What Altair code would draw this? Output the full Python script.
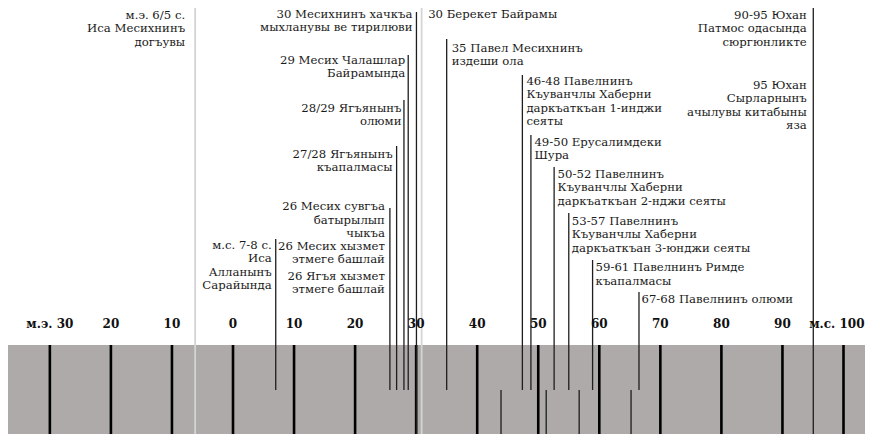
import altair as alt
import pandas as pd

# ---------------- data ----------------
tick_years = [-30, -20, -10, 0, 10, 20, 30, 40, 50, 60, 70, 80, 90, 100]
tick_labels = ["м.э. 30", "20", "10", "0", "10", "20", "30", "40", "50",
               "60", "70", "80", "90", "м.с. 100"]

# event marker lines (year position on the timeline)
line_years = [-6.2, 7.0, 25.7, 26.8, 28.0, 28.7, 30.05, 30.9, 35.0,
              47.4, 48.8, 52.6, 55.0, 58.9, 66.5, 95.05]
line_kind = ["light", "dark", "dark", "dark", "dark", "dark", "long", "light", "dark",
             "dark", "dark", "dark", "dark", "dark", "dark", "long"]

# short unlabeled marks in the lower half of the band
lower_years = [43.9, 51.3, 56.7, 65.2]

label_texts = [
    "м.э. 6/5 с.\nИса Месихнинъ\nдогъувы",
    "м.с. 7-8 с.\nИса\nАлланынъ\nСарайында",
    "26 Месих сувгъа\nбатырылып\nчыкъа",
    "26 Месих хызмет\nэтмеге башлай",
    "26 Ягъя хызмет\nэтмеге башлай",
    "27/28 Ягъянынъ\nкъапалмасы",
    "28/29 Ягъянынъ\nолюми",
    "29 Месих Чалашлар\nБайрамында",
    "30 Месихнинъ хачкъа\nмыхланувы ве тирилюви",
    "30 Берекет Байрамы",
    "35 Павел Месихнинъ\nиздеши ола",
    "46-48 Павелнинъ\nКъуванчлы Хаберни\nдаркъаткъан 1-инджи\nсеяты",
    "49-50 Ерусалимдеки\nШура",
    "50-52 Павелнинъ\nКъуванчлы Хаберни\nдаркъаткъан 2-нджи сеяты",
    "53-57 Павелнинъ\nКъуванчлы Хаберни\nдаркъаткъан 3-юнджи сеяты",
    "59-61 Павелнинъ Римде\nкъапалмасы",
    "67-68 Павелнинъ олюми",
    "90-95 Юхан\nПатмос одасында\nсюргюнликте",
    "95 Юхан\nСырларнынъ\nачылувы китабыны\nяза",
]
label_years = [-6.2, 7.0, 25.7, 25.7, 25.7, 26.8, 28.0, 28.7, 30.05, 30.9, 35.0,
               47.4, 48.8, 52.6, 55.0, 58.9, 66.5, 95.05, 95.05]

# ---------------- layout (pixels) ----------------
W, H = 857, 426
BAND_TOP = 337
LINE_END = 382
TICK_LABEL_Y = 316
line_tops = [0, 231, 200, 138, 92, 47, 4, 0, 31, 67, 127, 159, 205, 252, 284, 0]
label_align = ["right", "right", "right", "right", "right", "right", "right", "right", "right",
               "left", "left", "left", "left", "left", "left", "left", "left", "right", "right"]
label_dx = [-10, -4, -5, -5, -5, -4, -2.5, -3, -4, 6.5, 5, 4, 3.5, 3.5, 3, 3, 2.5, -6.5, -6.5]
label_top = [1.5, 231.5, 193, 232.5, 262.5, 140.5, 94.5, 46.5, 0.5, 0.5, 34.5,
             67.5, 128.5, 160.5, 207.5, 254, 285.5, 1.5, 71.5]

FONT = "DejaVu Serif"
FS = 11.7
LH = 13.5

PX_PER_YEAR = 6.105
ZERO_X = 225
x0 = -ZERO_X / PX_PER_YEAR
x1 = (W - ZERO_X) / PX_PER_YEAR
xscale = alt.Scale(domain=[x0, x1], range=[0, W], nice=False, zero=False)
yscale = alt.Scale(domain=[0, H], range=[0, H], nice=False, zero=False)

ticks = pd.DataFrame({"year": tick_years, "label": tick_labels})
lines = pd.DataFrame({"year": line_years, "kind": line_kind, "top": line_tops})
lines["bottom"] = [H if k != "dark" else LINE_END for k in line_kind]
lower = pd.DataFrame({"year": lower_years})
lower["top"] = LINE_END
lower["bottom"] = H

band = alt.Chart(pd.DataFrame({"a": [0]})).mark_rect(color="#adaaa9").encode(
    x=alt.value(0), x2=alt.value(W), y=alt.value(BAND_TOP), y2=alt.value(H + 10)
)

tick_rules = alt.Chart(ticks).mark_rule(color="#000", strokeWidth=2.6).encode(
    x=alt.X("year:Q", scale=xscale, axis=None),
    y=alt.value(BAND_TOP), y2=alt.value(H + 10),
)

tick_text = alt.Chart(ticks.iloc[:-1]).mark_text(
    font=FONT, fontSize=12, fontWeight="bold", color="#111", baseline="middle"
).encode(
    x=alt.X("year:Q", scale=xscale, axis=None),
    y=alt.value(TICK_LABEL_Y),
    text="label:N",
)
# last label sits against the right edge
tick_text_last = alt.Chart(ticks.iloc[-1:]).mark_text(
    font=FONT, fontSize=12, fontWeight="bold", color="#111", baseline="middle",
    align="right", dx=W - (ZERO_X + 100 * PX_PER_YEAR) - 0.5
).encode(
    x=alt.X("year:Q", scale=xscale, axis=None),
    y=alt.value(TICK_LABEL_Y),
    text="label:N",
)

light_lines = alt.Chart(lines[lines.kind == "light"]).mark_rule(
    color="#d4d4d4", strokeWidth=1.8
).encode(
    x=alt.X("year:Q", scale=xscale, axis=None),
    y=alt.Y("top:Q", scale=yscale, axis=None),
    y2=alt.value(H + 10),
)

dark_lines = alt.Chart(lines[lines.kind != "light"]).mark_rule(
    color="#1e1e1e", strokeWidth=1.3
).encode(
    x=alt.X("year:Q", scale=xscale, axis=None),
    y=alt.Y("top:Q", scale=yscale, axis=None),
    y2="bottom:Q",
)

lower_lines = alt.Chart(lower).mark_rule(color="#111", strokeWidth=1.2).encode(
    x=alt.X("year:Q", scale=xscale, axis=None),
    y=alt.Y("top:Q", scale=yscale, axis=None),
    y2="bottom:Q",
)

layers = [band, light_lines, tick_rules, dark_lines, lower_lines, tick_text, tick_text_last]

for txt, yr, al, dx, top in zip(label_texts, label_years, label_align, label_dx, label_top):
    df = pd.DataFrame({"year": [yr], "text": [txt], "top": [top]})
    layers.append(
        alt.Chart(df).mark_text(
            font=FONT, fontSize=FS, lineHeight=LH, lineBreak="\n", align=al,
            baseline="top", dx=dx, color="#1a1a1a"
        ).encode(
            x=alt.X("year:Q", scale=xscale, axis=None),
            y=alt.Y("top:Q", scale=yscale, axis=None),
            text="text:N",
        )
    )

chart = alt.layer(*layers).properties(
    width=W, height=H, padding=0, autosize=alt.AutoSizeParams(type="none"),
    background="white",
).configure_view(stroke=None)

chart.save("out.html", embed_options={"renderer": "svg", "actions": False})
